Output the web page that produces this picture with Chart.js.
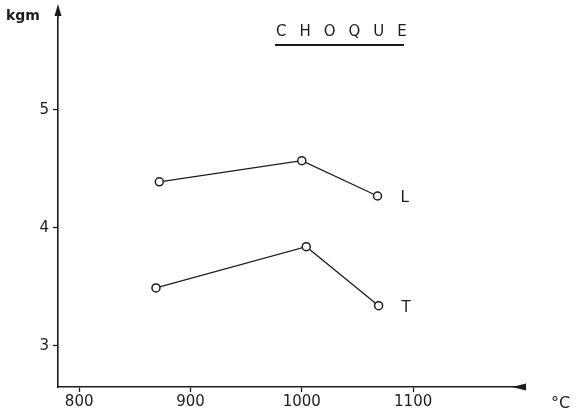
<!DOCTYPE html>
<html>
<head>
<meta charset="utf-8">
<script src="https://cdn.jsdelivr.net/npm/chart.js@4"></script>
<style>
  html, body { margin: 0; padding: 0; background: #fff; }
  #wrap { width: 577px; height: 413px; }
</style>
</head>
<body>
<div id="wrap"><canvas id="c" width="577" height="413"></canvas></div>
<script>
// temperatures (°C) and impact values (kgm)
const tempL = [872, 1000, 1068];
const valL = [4.39, 4.57, 4.27];
const tempT = [869, 1004, 1069];
const valT = [3.49, 3.84, 3.34];

const xTicks = [800, 900, 1000, 1100];
const yTicks = [3, 4, 5];

const title = 'CHOQUE';
const yUnit = 'kgm';
const xUnit = '°C';
const seriesNames = ['L', 'T'];

const ink = '#1c1c1c';
const font = '"DejaVu Sans", sans-serif';

const toPts = (xs, ys) => xs.map((t, i) => ({ x: t, y: ys[i] }));

const lineSet = (xs, ys) => ({
    data: toPts(xs, ys),
    borderColor: ink,
    borderWidth: 1.3,
    pointRadius: 4,
    pointBorderWidth: 1.5,
    pointBackgroundColor: '#fff',
    pointBorderColor: ink,
    tension: 0
});

// arrows, series names, title, units
const annotate = {
    id: 'annotate',
    afterDraw(chart) {
        const { ctx, scales: { x, y } } = chart;
        const x0 = x.left, y0 = y.bottom;
        ctx.save();
        ctx.fillStyle = ink;
        ctx.strokeStyle = ink;
        ctx.lineWidth = 1.6;

        // y axis arrow
        ctx.beginPath();
        ctx.moveTo(x0, y.top);
        ctx.lineTo(x0, 10);
        ctx.stroke();
        ctx.beginPath();
        ctx.moveTo(x0, 4);
        ctx.lineTo(x0 - 3.5, 16);
        ctx.lineTo(x0 + 3.5, 16);
        ctx.closePath();
        ctx.fill();

        // x axis arrow
        ctx.beginPath();
        ctx.moveTo(x.right - 8, y0);
        ctx.lineTo(x.right + 6, y0 - 3.5);
        ctx.lineTo(x.right + 6, y0 + 3.5);
        ctx.closePath();
        ctx.fill();

        // series names next to last points
        ctx.font = '15px ' + font;
        ctx.textBaseline = 'middle';
        ctx.textAlign = 'left';
        ctx.fillText(seriesNames[0], x.getPixelForValue(tempL[tempL.length - 1]) + 23, y.getPixelForValue(valL[valL.length - 1]) + 2);
        ctx.fillText(seriesNames[1], x.getPixelForValue(tempT[tempT.length - 1]) + 23, y.getPixelForValue(valT[valT.length - 1]) + 2);

        // units
        ctx.font = 'bold 14px ' + font;
        ctx.fillText(yUnit, 6, 16);
        ctx.font = '16px ' + font;
        ctx.fillText(xUnit, 551, 404);

        // title with wide letter spacing and underline
        ctx.font = '15px ' + font;
        ctx.letterSpacing = '13px';
        ctx.fillText(title, 276, 32);
        ctx.letterSpacing = '0px';
        ctx.lineWidth = 2;
        ctx.beginPath();
        ctx.moveTo(275, 45);
        ctx.lineTo(404, 45);
        ctx.stroke();
        ctx.restore();
    }
};

new Chart(document.getElementById('c'), {
    type: 'line',
    data: { datasets: [lineSet(tempL, valL), lineSet(tempT, valT)] },
    options: {
        responsive: false,
        animation: false,
        layout: { padding: { top: 18, right: 57, left: 0, bottom: 0 } },
        plugins: { legend: { display: false }, tooltip: { enabled: false } },
        scales: {
            x: {
                type: 'linear',
                min: 781,
                max: 1196,
                afterBuildTicks: s => { s.ticks = xTicks.map(v => ({ value: v })); },
                afterFit: s => { s.height = 26; },
                border: { color: ink, width: 1.6 },
                grid: { drawOnChartArea: false, tickLength: 5, color: ink, tickWidth: 1.3 },
                ticks: { color: ink, font: { family: font, size: 15 }, padding: 1, maxRotation: 0, callback: v => String(v) }
            },
            y: {
                type: 'linear',
                min: 2.65,
                max: 5.78,
                afterBuildTicks: s => { s.ticks = yTicks.map(v => ({ value: v })); },
                afterFit: s => { s.width = 58; },
                border: { color: ink, width: 1.6 },
                grid: { drawOnChartArea: false, tickLength: 5, color: ink, tickWidth: 1.3 },
                ticks: { color: ink, font: { family: font, size: 15 }, padding: 4, callback: v => String(v) }
            }
        }
    },
    plugins: [annotate]
});
</script>
</body>
</html>
